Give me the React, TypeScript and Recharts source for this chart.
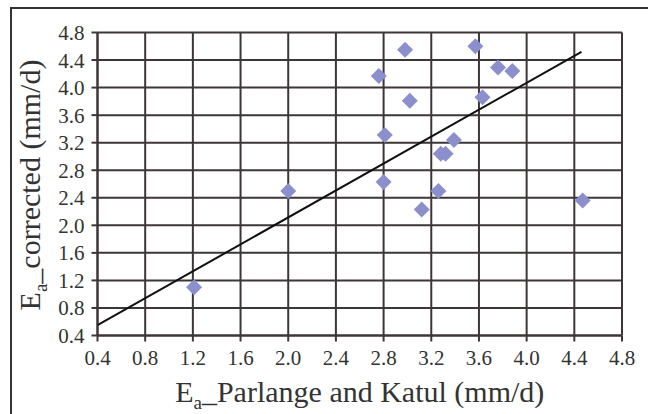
import React from "react";
import {
  ScatterChart,
  Scatter,
  XAxis,
  YAxis,
  CartesianGrid,
  Label,
} from "recharts";

// measured points: E_a Parlange and Katul vs E_a corrected (mm/d)
const parlangeKatul = [1.21, 2.0, 2.76, 2.8, 2.81, 2.98, 3.02, 3.12, 3.26, 3.28, 3.32, 3.39, 3.57, 3.63, 3.76, 3.88, 4.47];
const corrected = [1.1, 2.5, 4.17, 2.63, 3.31, 4.55, 3.81, 2.23, 2.5, 3.04, 3.04, 3.24, 4.6, 3.86, 4.29, 4.24, 2.36];

// fitted line end points
const fitX = [0.4, 4.46];
const fitY = [0.55, 4.52];

const axisTicks = [0.4, 0.8, 1.2, 1.6, 2.0, 2.4, 2.8, 3.2, 3.6, 4.0, 4.4, 4.8];

const points = parlangeKatul.map((x, i) => ({ x, y: corrected[i] }));
const fitLine = fitX.map((x, i) => ({ x, y: fitY[i] }));

const GRID = "#3e3636";
const TEXT = "#333";
const FONT = "Liberation Serif, Times New Roman, DejaVu Serif, serif";

const Diamond = (props: any) => {
  const { cx, cy } = props;
  const r = 8;
  return (
    <polygon
      points={`${cx},${cy - r} ${cx + r},${cy} ${cx},${cy + r} ${cx - r},${cy}`}
      fill="#8b8fcb"
    />
  );
};

const XTitle = (props: any) => {
  const { x, y, width } = props.viewBox;
  return (
    <text x={x + width / 2} y={y + 66} textAnchor="middle" style={{ fontFamily: FONT }} fontSize={30} fill={TEXT}>
      E<tspan fontSize={19} dy={7}>a</tspan>
      <tspan dy={-7}>_Parlange and Katul (mm/d)</tspan>
    </text>
  );
};

const YTitle = (props: any) => {
  const { y, height } = props.viewBox;
  const cx = 39.5;
  const cy = y + height / 2 + 1;
  return (
    <text
      x={cx}
      y={cy}
      transform={`rotate(-90, ${cx}, ${cy})`}
      textAnchor="middle"
      style={{ fontFamily: FONT }}
      fontSize={30}
      fill={TEXT}
    >
      E<tspan fontSize={19} dy={7}>a</tspan>
      <tspan dy={-7}>_corrected (mm/d)</tspan>
    </text>
  );
};

export default function App() {
  return (
    <div style={{ position: "absolute", left: 0, top: 0, width: 648, height: 414, background: "#fff", overflow: "hidden", fontFamily: FONT }}>
      <div
        style={{
          position: "absolute",
          left: 10,
          top: 7,
          width: 660,
          height: 430,
          borderLeft: "2px solid #333",
          borderTop: "2px solid #333",
        }}
      />
      <ScatterChart
        width={648}
        height={414}
        margin={{ top: 32.5, right: 26, bottom: 0, left: 0 }}
        style={{ position: "absolute", left: 0, top: 0, fontFamily: FONT }}
      >
        <CartesianGrid stroke={GRID} strokeWidth={2} horizontalValues={axisTicks} verticalValues={axisTicks} />
        <XAxis
          type="number"
          dataKey="x"
          domain={[0.4, 4.8]}
          ticks={axisTicks}
          interval={0}
          tickFormatter={(v: number) => v.toFixed(1)}
          height={78.5}
          tickSize={6}
          tickMargin={9}
          stroke={GRID}
          strokeWidth={2}
          tick={{ fill: TEXT, fontSize: 21, style: { fontFamily: FONT } }}
          allowDataOverflow
        >
          <Label content={<XTitle />} />
        </XAxis>
        <YAxis
          type="number"
          dataKey="y"
          domain={[0.4, 4.8]}
          ticks={axisTicks}
          interval={0}
          tickFormatter={(v: number) => v.toFixed(1)}
          width={97.5}
          tickSize={6}
          tickMargin={7}
          stroke={GRID}
          strokeWidth={2}
          tick={{ fill: TEXT, fontSize: 21, style: { fontFamily: FONT } }}
          allowDataOverflow
        >
          <Label content={<YTitle />} />
        </YAxis>
        <Scatter data={points} shape={<Diamond />} isAnimationActive={false} />
        <Scatter
          data={fitLine}
          line={{ stroke: "#111", strokeWidth: 2 }}
          shape={() => null}
          isAnimationActive={false}
        />
      </ScatterChart>
    </div>
  );
}
